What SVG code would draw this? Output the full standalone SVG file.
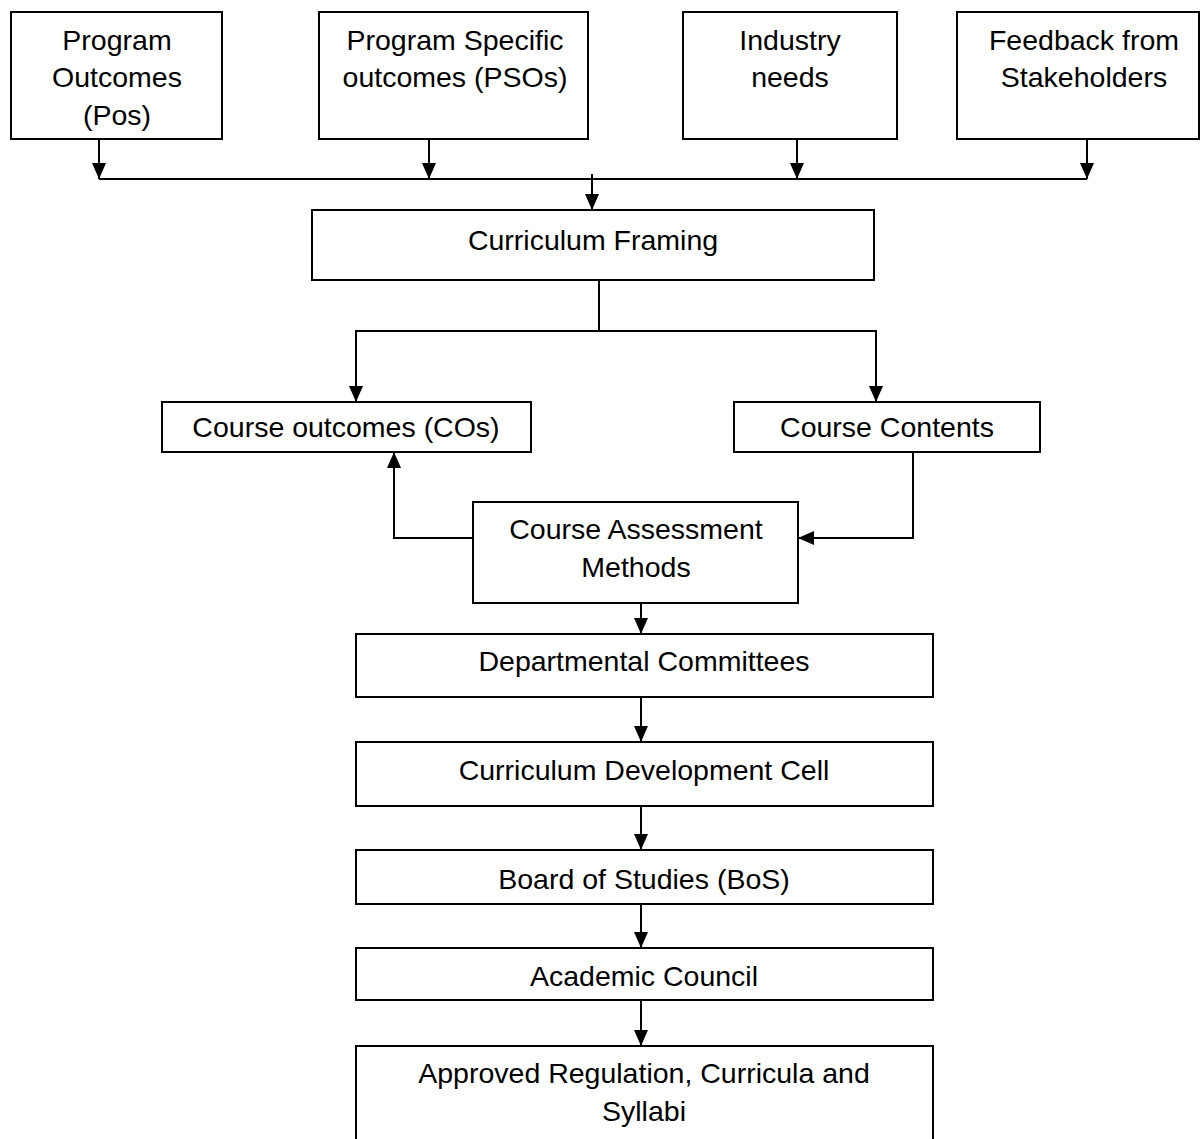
<svg xmlns="http://www.w3.org/2000/svg" width="1200" height="1139" viewBox="0 0 1200 1139">
<style>
.box{fill:#fff;stroke:#000;stroke-width:2}
.t{font-family:"Liberation Sans",Arial,sans-serif;font-size:28.5px;fill:#000;text-anchor:middle}
.c{fill:none;stroke:#000;stroke-width:2}
</style>
<defs>
<marker id="ah" markerUnits="userSpaceOnUse" markerWidth="18" markerHeight="16" refX="16" refY="7" orient="auto">
<path d="M0,0 L16,7 L0,14 z" fill="#000"/>
</marker>
</defs>
<rect width="1200" height="1139" fill="#fff"/>
<g id="connectors">
<path class="c" d="M99,139 V179" marker-end="url(#ah)"/>
<path class="c" d="M429,139 V179" marker-end="url(#ah)"/>
<path class="c" d="M797,139 V179" marker-end="url(#ah)"/>
<path class="c" d="M1087,139 V179" marker-end="url(#ah)"/>
<path class="c" d="M99,179 H1087"/>
<path class="c" d="M592,174 V210" marker-end="url(#ah)"/>
<path class="c" d="M599,280 V331"/>
<path class="c" d="M599,331 H356 V402" marker-end="url(#ah)"/>
<path class="c" d="M599,331 H876 V402" marker-end="url(#ah)"/>
<path class="c" d="M473,538 H394 V452" marker-end="url(#ah)"/>
<path class="c" d="M913,452 V538 H798" marker-end="url(#ah)"/>
<path class="c" d="M641,603 V634" marker-end="url(#ah)"/>
<path class="c" d="M641,697 V742" marker-end="url(#ah)"/>
<path class="c" d="M641,806 V850" marker-end="url(#ah)"/>
<path class="c" d="M641,904 V948" marker-end="url(#ah)"/>
<path class="c" d="M641,1000 V1046" marker-end="url(#ah)"/>
</g>
<g id="po"><rect class="box" x="11" y="12" width="211" height="127"/>
<text class="t" x="117" y="50">Program</text><text class="t" x="117" y="87">Outcomes</text><text class="t" x="117" y="125">(Pos)</text></g>
<g id="pso"><rect class="box" x="319" y="12" width="269" height="127"/>
<text class="t" x="455" y="50">Program Specific</text><text class="t" x="455" y="87">outcomes (PSOs)</text></g>
<g id="industry"><rect class="box" x="683" y="12" width="214" height="127"/>
<text class="t" x="790" y="50">Industry</text><text class="t" x="790" y="87">needs</text></g>
<g id="feedback"><rect class="box" x="957" y="12" width="242" height="127"/>
<text class="t" x="1084" y="50">Feedback from</text><text class="t" x="1084" y="87">Stakeholders</text></g>
<g id="framing"><rect class="box" x="312" y="210" width="562" height="70"/>
<text class="t" x="593" y="250">Curriculum Framing</text></g>
<g id="cos"><rect class="box" x="162" y="402" width="369" height="50"/>
<text class="t" x="346" y="437">Course outcomes (COs)</text></g>
<g id="contents"><rect class="box" x="734" y="402" width="306" height="50"/>
<text class="t" x="887" y="437">Course Contents</text></g>
<g id="assessment"><rect class="box" x="473" y="502" width="325" height="101"/>
<text class="t" x="636" y="539">Course Assessment</text><text class="t" x="636" y="577">Methods</text></g>
<g id="dept"><rect class="box" x="356" y="634" width="577" height="63"/>
<text class="t" x="644" y="671">Departmental Committees</text></g>
<g id="cdc"><rect class="box" x="356" y="742" width="577" height="64"/>
<text class="t" x="644" y="780">Curriculum Development Cell</text></g>
<g id="bos"><rect class="box" x="356" y="850" width="577" height="54"/>
<text class="t" x="644" y="889">Board of Studies (BoS)</text></g>
<g id="ac"><rect class="box" x="356" y="948" width="577" height="52"/>
<text class="t" x="644" y="986">Academic Council</text></g>
<g id="approved"><rect class="box" x="356" y="1046" width="577" height="100"/>
<text class="t" x="644" y="1083">Approved Regulation, Curricula and</text><text class="t" x="644" y="1121">Syllabi</text></g>
</svg>
